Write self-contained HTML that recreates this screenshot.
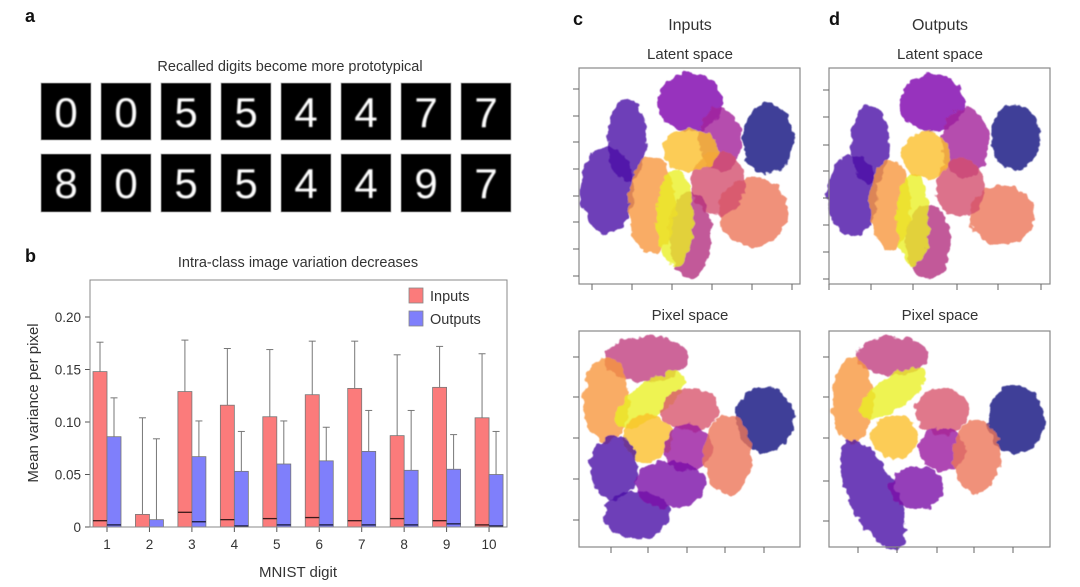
<!DOCTYPE html>
<html><head><meta charset="utf-8">
<style>
html,body{margin:0;padding:0;background:#fff;}
body{width:1080px;height:587px;overflow:hidden;position:relative;font-family:"Liberation Sans",sans-serif;color:#222;}
svg{position:absolute;left:0;top:0;}
</style></head>
<body>
<svg id="fig" width="1080" height="587" viewBox="0 0 1080 587" xmlns="http://www.w3.org/2000/svg">
<defs>
<filter id="rough" x="-20%" y="-20%" width="140%" height="140%">
<feTurbulence type="fractalNoise" baseFrequency="0.12" numOctaves="2" seed="3" result="n"/>
<feDisplacementMap in="SourceGraphic" in2="n" scale="9" xChannelSelector="R" yChannelSelector="G"/>
<feGaussianBlur stdDeviation="0.6"/>
</filter>
<filter id="soft"><feGaussianBlur stdDeviation="0.9"/></filter>
</defs>
<g font-family="Liberation Sans, sans-serif">
<text x="25" y="22" font-size="18" font-weight="bold" fill="#111">a</text>
<text x="290" y="71" font-size="14.5" text-anchor="middle" fill="#333">Recalled digits become more prototypical</text>
<g id="digits"></g>
<text x="25" y="262" font-size="18" font-weight="bold" fill="#111">b</text>
<g id="bars"></g>
<text x="573" y="25" font-size="18" font-weight="bold" fill="#111">c</text>
<text x="690" y="30" font-size="16" text-anchor="middle" fill="#333">Inputs</text>
<text x="829" y="25" font-size="18" font-weight="bold" fill="#111">d</text>
<text x="940" y="30" font-size="16" text-anchor="middle" fill="#333">Outputs</text>
<text x="690" y="59" font-size="15" text-anchor="middle" fill="#333">Latent space</text>
<text x="940" y="59" font-size="15" text-anchor="middle" fill="#333">Latent space</text>
<text x="690" y="320" font-size="15" text-anchor="middle" fill="#333">Pixel space</text>
<text x="940" y="320" font-size="15" text-anchor="middle" fill="#333">Pixel space</text>
<g id="scatters"></g>
</g>
</svg>
<script>
// ---- Panel a digits ----
const digitsTop = ['0','0','5','5','4','4','7','7'];
const digitsBottom = ['8','0','5','5','4','4','9','7'];

// ---- Panel b bar chart data ----
const categories = ['1','2','3','4','5','6','7','8','9','10'];
const inputsMean = [0.148,0.012,0.129,0.116,0.105,0.126,0.132,0.087,0.133,0.104];
const outputsMean = [0.086,0.007,0.067,0.053,0.060,0.063,0.072,0.054,0.055,0.050];
const inputsErr = [0.176,0.104,0.178,0.170,0.169,0.177,0.177,0.164,0.172,0.165];
const outputsErr = [0.123,0.084,0.101,0.091,0.101,0.095,0.111,0.111,0.088,0.091];
const inputsMedian = [0.006,0.0,0.014,0.007,0.008,0.009,0.006,0.008,0.006,0.002];
const outputsMedian = [0.002,0.0,0.005,0.001,0.002,0.002,0.002,0.002,0.003,0.001];
const yTicks = [0,0.05,0.10,0.15,0.20];
const yTickLabels = ['0','0.05','0.10','0.15','0.20'];

// ---- Scatter cluster data (local units: x 0..221, y 0..216 up) ----
const latentInX = [48,28,111,141,189,174,139,111,73,96,111];
const latentInY = [144,94,182,144,145,72,101,49,79,66,134];
const latentInRx = [18,25,30,20,23,32,25,20,22,17,26];
const latentInRy = [38,40,27,30,33,32,30,40,45,45,20];
const latentInRot = [0,0,0,0,0,0,0,0,0,0,0];
const latentInColor = ['#4b12a6','#4b12a6','#7d08ad','#a21f9a','#10107e','#ec7558','#d34f6e','#b3307f','#f7973d','#eaf024','#fbbf2b'];

const latentOutX = [41,23,103,136,187,173,131,99,61,84,97];
const latentOutY = [139,89,181,141,147,69,97,42,79,64,129];
const latentOutRx = [18,23,30,22,23,30,23,21,19,15,22];
const latentOutRy = [36,38,27,33,30,28,27,35,42,43,22];
const latentOutRot = [0,0,0,0,0,0,0,0,0,0,0];
const latentOutColor = latentInColor;

const pixelInX = [67,27,71,111,69,109,186,149,35,58,91];
const pixelInY = [188,147,147,137,109,99,128,92,79,32,63];
const pixelInRx = [39,21,38,27,23,22,27,22,22,30,33];
const pixelInRy = [21,40,16,20,22,22,31,37,30,22,22];
const pixelInRot = [0,0,-35,0,0,0,0,0,0,0,0];
const pixelInColor = ['#c0407f','#f7973d','#eaf024','#d8566e','#fbbf2b','#9a1aa0','#10107e','#ec7558','#4b12a6','#4b12a6','#7a0ca8'];

const pixelOutX = [63,24,64,113,66,113,187,148,44,88];
const pixelOutY = [191,147,154,136,110,98,127,91,52,59];
const pixelOutRx = [33,19,36,25,22,22,26,22,22,25];
const pixelOutRy = [18,40,15,22,20,20,32,34,55,20];
const pixelOutRot = [0,0,-35,0,0,0,0,0,-25,0];
const pixelOutColor = ['#c0407f','#f7973d','#eaf024','#d8566e','#fbbf2b','#9a1aa0','#10107e','#ec7558','#4b12a6','#7a0ca8'];

const NS='http://www.w3.org/2000/svg';
function mk(tag,attrs,parent){const e=document.createElementNS(NS,tag);for(const k in attrs)e.setAttribute(k,attrs[k]);parent.appendChild(e);return e;}

// digits
const dg=document.getElementById('digits');
[digitsTop,digitsBottom].forEach((row,r)=>{
  row.forEach((d,i)=>{
    const x=41+i*60, y=r===0?83:154;
    const rect=mk('rect',{x:x,y:y,width:50,height:r===0?57:58,fill:'#000',stroke:'#aaa','stroke-width':0.8},dg);
    
    
    const t=mk('text',{x:x+25,y:y+44,'font-size':42,'text-anchor':'middle',fill:'#fff',filter:'url(#soft)'},dg);
    t.textContent=d;
    
    
  });
});

// bar chart
const bg=document.getElementById('bars');
const L=90,R=507,T=280,B=527;
const yScale=v=>B-v*1050;
const xCenter=i=>107+i*42.45;
const bw=14;
const title=mk('text',{x:298,y:267,'font-size':14.5,'text-anchor':'middle',fill:'#333'},bg);
title.textContent='Intra-class image variation decreases';


yTicks.forEach((v,i)=>{
  const y=yScale(v);
  const tl=mk('line',{x1:L-5,x2:L,y1:y,y2:y,stroke:'#555','stroke-width':1},bg);
  
  
  const tx=mk('text',{x:L-9,y:y+5,'font-size':13.5,'text-anchor':'end',fill:'#333'},bg);
  tx.textContent=yTickLabels[i];
  
  
});
categories.forEach((c,i)=>{
  const xc=xCenter(i);
  const ib=mk('rect',{x:xc-bw,y:yScale(inputsMean[i]),width:bw,height:B-yScale(inputsMean[i]),fill:'#fb7b7b',stroke:'#777','stroke-width':0.8},bg);
  
  
  const ob=mk('rect',{x:xc,y:yScale(outputsMean[i]),width:bw,height:B-yScale(outputsMean[i]),fill:'#7f7ffb',stroke:'#777','stroke-width':0.8},bg);
  
  
  [[xc-bw/2,inputsMean[i],inputsErr[i]],[xc+bw/2,outputsMean[i],outputsErr[i]]].forEach(([ex,m,e])=>{
    const el=mk('line',{x1:ex,x2:ex,y1:yScale(m),y2:yScale(e),stroke:'#777','stroke-width':1},bg);
    
    
    const cap=mk('line',{x1:ex-3.5,x2:ex+3.5,y1:yScale(e),y2:yScale(e),stroke:'#777','stroke-width':1},bg);
    
    
  });
  if(inputsMedian[i]>0){
    const ml=mk('line',{x1:xc-bw,x2:xc,y1:yScale(inputsMedian[i]),y2:yScale(inputsMedian[i]),stroke:'#3a1a1a','stroke-width':1.3},bg);
    
    
  }
  if(outputsMedian[i]>0){
    const ml2=mk('line',{x1:xc,x2:xc+bw,y1:yScale(outputsMedian[i]),y2:yScale(outputsMedian[i]),stroke:'#1a1a3a','stroke-width':1.3},bg);
    
    
  }
  const tk=mk('line',{x1:xc,x2:xc,y1:B,y2:B+5,stroke:'#555','stroke-width':1},bg);
  
  
  const xl=mk('text',{x:xc,y:B+22,'font-size':13.5,'text-anchor':'middle',fill:'#333'},bg);
  xl.textContent=c;
  
  
});
const frame=mk('rect',{x:L,y:T,width:R-L,height:B-T,fill:'none',stroke:'#888','stroke-width':1},bg);


const yl=mk('text',{x:0,y:0,'font-size':15,'text-anchor':'middle',fill:'#333',transform:'translate(38,403) rotate(-90)'},bg);
yl.textContent='Mean variance per pixel';


const xt=mk('text',{x:298,y:577,'font-size':15,'text-anchor':'middle',fill:'#333'},bg);
xt.textContent='MNIST digit';


[['Inputs','#fb7b7b',288],['Outputs','#7f7ffb',311]].forEach(([lab,col,y])=>{
  const sw=mk('rect',{x:409,y:y,width:14,height:15,fill:col,stroke:'#888','stroke-width':0.8},bg);
  
  
  const lt=mk('text',{x:430,y:y+13,'font-size':14.5,fill:'#333'},bg);
  lt.textContent=lab;
  
  
});

// scatter panels
const sc=document.getElementById('scatters');
const panels=[
 {name:'latent-inputs',left:579,top:68,X:latentInX,Y:latentInY,RX:latentInRx,RY:latentInRy,ROT:latentInRot,C:latentInColor,yt:[89,116,142,169,196,222,249,276],xt:[592,632,672,712,752,792]},
 {name:'latent-outputs',left:829,top:68,X:latentOutX,Y:latentOutY,RX:latentOutRx,RY:latentOutRy,ROT:latentOutRot,C:latentOutColor,yt:[90,117,145,171,198,225,252,279],xt:[829,871,913,957,998,1041]},
 {name:'pixel-inputs',left:579,top:331,X:pixelInX,Y:pixelInY,RX:pixelInRx,RY:pixelInRy,ROT:pixelInRot,C:pixelInColor,yt:[357,397,438,479,520],xt:[611,648,687,725,764]},
 {name:'pixel-outputs',left:829,top:331,X:pixelOutX,Y:pixelOutY,RX:pixelOutRx,RY:pixelOutRy,ROT:pixelOutRot,C:pixelOutColor,yt:[357,397,438,481,521],xt:[858,897,937,974,1013]}
];
const grow=1.08;
panels.forEach(p=>{
  const W=221,H=216;
  const g=mk('g',{},sc);
  
  
  const sx=v=>p.left+v, sy=v=>p.top+H-v;
  const cg=mk('g',{filter:'url(#rough)'},g);
  p.X.forEach((x,i)=>{
    const cx=sx(x), cy=sy(p.Y[i]);
    const e=mk('ellipse',{cx:cx,cy:cy,rx:p.RX[i]*grow,ry:p.RY[i]*grow,fill:p.C[i],'fill-opacity':0.8,transform:'rotate('+p.ROT[i]+' '+cx+' '+cy+')'},cg);
    
    
  });
  const fr=mk('rect',{x:p.left,y:p.top,width:W,height:H,fill:'none',stroke:'#888','stroke-width':1.2},g);
  
  
  p.yt.forEach(y=>{
    const t=mk('line',{x1:p.left-6,x2:p.left,y1:y,y2:y,stroke:'#666','stroke-width':1},g);
    
    
  });
  p.xt.forEach(x=>{
    const t=mk('line',{x1:x,x2:x,y1:p.top+H,y2:p.top+H+6,stroke:'#666','stroke-width':1},g);
    
    
  });
});
</script>
</body></html>
